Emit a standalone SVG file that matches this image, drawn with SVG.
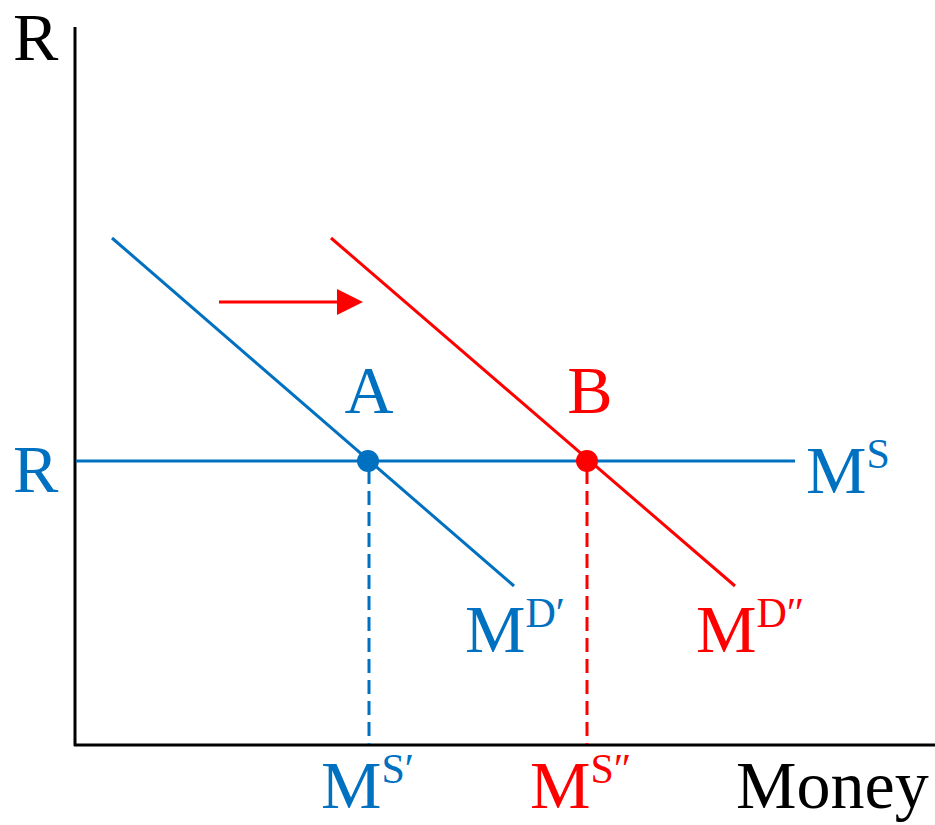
<svg xmlns="http://www.w3.org/2000/svg" width="935" height="825" viewBox="0 0 935 825">
<defs>
<style>
text{font-family:"Liberation Serif","Times New Roman",serif;font-size:68px}
.b{fill:#0070C0}.r{fill:#FF0000}.k{fill:#000}
.sup{font-size:42px}
.ax{stroke:#000;stroke-width:3;fill:none}
.lb{stroke:#0070C0;stroke-width:3;fill:none}
.lr{stroke:#FF0000;stroke-width:3;fill:none}
.dash{stroke-dasharray:14 7}
</style>
</defs>
<rect width="935" height="825" fill="#fff"/>
<g id="connectors">
<path id="y-axis" class="ax" d="M75 27V746"/>
<path id="x-axis" class="ax" d="M74 745H935"/>
<path id="ms-line" class="lb" d="M76 461H795"/>
<path id="md1" class="lb" d="M112 238L514 586"/>
<path id="md2" class="lr" d="M331 238L735 586"/>
<path id="drop-a" class="lb dash" d="M369 470V744"/>
<path id="drop-b" class="lr dash" d="M587 470V744"/>
<path id="shift-arrow" class="lr" stroke-width="4" d="M219 302H340"/>
<polygon fill="#FF0000" points="337,289 363,302 337,315"/>
</g>
<g id="label-R-top"><text class="k" x="13" y="60">R</text></g>
<g id="label-R"><text class="b" x="13" y="492">R</text></g>
<g id="point-A"><circle class="b" cx="368" cy="461" r="11"/><text class="b" x="369" y="413" text-anchor="middle">A</text></g>
<g id="point-B"><circle class="r" cx="587" cy="461" r="11"/><text class="r" x="590" y="413" text-anchor="middle">B</text></g>
<g id="label-MS"><text class="b" x="806" y="493">M<tspan class="sup" dy="-25">S</tspan></text></g>
<g id="label-MD1"><text class="b" x="465" y="652">M<tspan class="sup" dy="-25">D′</tspan></text></g>
<g id="label-MD2"><text class="r" x="696" y="652">M<tspan class="sup" dy="-25">D″</tspan></text></g>
<g id="label-MS1"><text class="b" x="321" y="808">M<tspan class="sup" dy="-25">S′</tspan></text></g>
<g id="label-MS2"><text class="r" x="530" y="808">M<tspan class="sup" dy="-25">S″</tspan></text></g>
<g id="label-money"><text class="k" x="736" y="808">Money</text></g>
</svg>
